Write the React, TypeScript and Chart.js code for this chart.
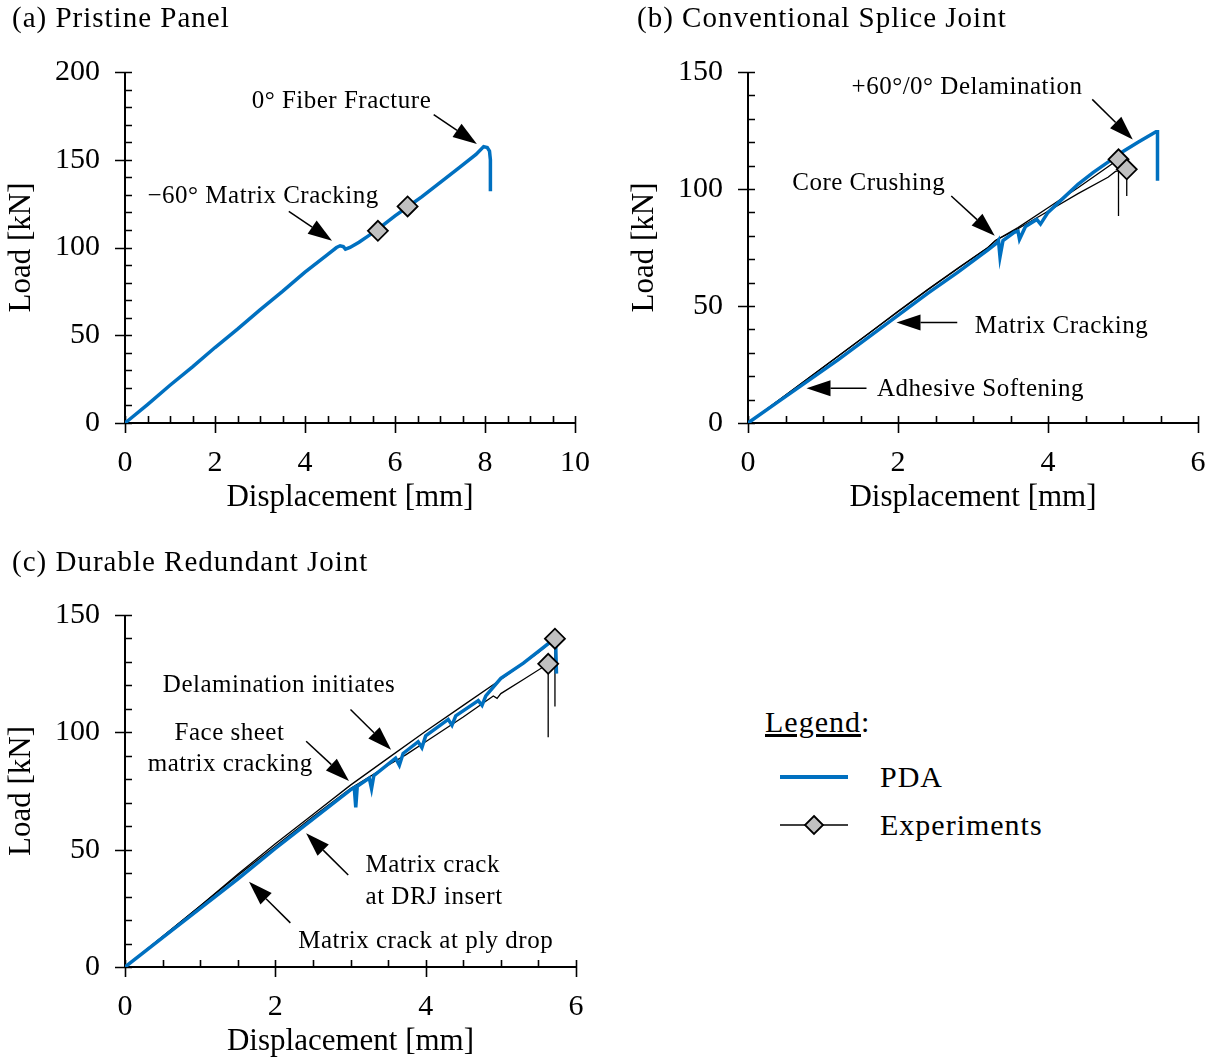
import React, { useEffect, useRef } from "react";
import { Chart, registerables } from "chart.js";

Chart.register(...registerables);

const FONT = '"Liberation Serif", "Times New Roman", serif';
const BLUE = "#0070C0";
const GREY = "#C0C0C0";

// ---------- Panel (a) Pristine Panel ----------
const aPdaX = [0, 0.05, 0.5, 1.0, 1.5, 2.0, 2.5, 3.0, 3.5, 4.0, 4.5, 4.7, 4.78, 4.85, 4.9, 5.0, 5.2, 5.4, 5.6, 5.8, 6.0, 6.3, 6.6, 7.0, 7.4, 7.8, 7.97, 8.05, 8.1, 8.12, 8.12];
const aPdaY = [0, 1, 10.5, 21.5, 32, 43, 53.5, 64.5, 75, 86, 96, 100, 101, 100.5, 99, 100, 103, 106.5, 110, 114, 118, 123.5, 129, 137, 145, 153, 157.5, 157, 155, 150, 132];
const aPeakX = [5.62, 6.28];
const aPeakY = [109.5, 123.4];

// ---------- Panel (b) Conventional Splice Joint ----------
const bPdaX = [0, 0.4, 0.8, 1.2, 1.6, 2.0, 2.4, 2.8, 3.2, 3.32, 3.34, 3.36, 3.4, 3.55, 3.6, 3.62, 3.7, 3.85, 3.9, 4.0, 4.2, 4.4, 4.6, 4.8, 5.0, 5.2, 5.44, 5.46, 5.46];
const bPdaY = [0, 9, 18, 27, 36.5, 46, 55.5, 64.5, 74, 77, 78, 71, 78, 81.5, 82, 78.5, 84, 87, 85, 90, 96, 102, 107, 111.5, 116, 120, 124.5, 124.5, 103.5];
const bExp1X = [0, 0.4, 0.8, 1.2, 1.6, 2.0, 2.4, 2.8, 3.2, 3.3, 3.6, 4.0, 4.4, 4.8, 4.94, 4.94];
const bExp1Y = [0, 9.5, 19, 28.5, 38, 47.5, 57, 66, 75, 78, 83.5, 92, 100.5, 109.5, 112.7, 88.5];
const bExp2X = [0, 0.4, 0.8, 1.2, 1.6, 2.0, 2.4, 2.8, 3.2, 3.3, 3.6, 4.0, 4.4, 4.8, 4.9, 5.05, 5.05];
const bExp2Y = [0, 9.5, 19, 28.5, 38, 47.8, 57.2, 66.2, 75, 78, 83, 90.5, 98, 105, 107.5, 108.4, 97];
const bPeakX = [4.94, 5.05];
const bPeakY = [112.7, 108.4];

// ---------- Panel (c) Durable Redundant Joint ----------
const cPdaX = [0, 0.5, 1.0, 1.5, 2.0, 2.5, 3.0, 3.05, 3.07, 3.09, 3.25, 3.28, 3.31, 3.6, 3.65, 3.7, 3.9, 3.95, 4.0, 4.3, 4.35, 4.4, 4.7, 4.75, 4.8, 5.0, 5.3, 5.5, 5.68, 5.73, 5.74];
const cPdaY = [0, 12.5, 25, 37.5, 50.5, 63, 75.5, 76.5, 68, 77, 80.5, 76, 81.5, 89, 86, 91, 96, 93.5, 98.5, 105.5, 103, 107, 113.5, 111.5, 115.5, 123, 129.5, 134.5, 139, 137, 125];
const cExp1X = [0, 0.5, 1.0, 1.5, 2.0, 2.5, 3.0, 3.5, 4.0, 4.5, 5.0, 5.5, 5.72, 5.72];
const cExp1Y = [0, 13, 26, 39.5, 52.5, 65, 77.5, 89, 100.5, 111.5, 122.5, 134, 139.9, 111];
const cExp2X = [0, 0.5, 1.0, 1.5, 2.0, 2.5, 3.0, 3.5, 3.74, 4.0, 4.5, 4.9, 4.95, 5.0, 5.3, 5.63, 5.63];
const cExp2Y = [0, 13, 26, 39, 51.5, 64, 76, 86, 90.5, 96, 106.5, 115.5, 114.5, 116.5, 122.5, 129.2, 97.9];
const cPeakX = [5.72, 5.63];
const cPeakY = [139.9, 129.2];

// ---------- Axis settings ----------
const aXRange = [0, 10], aXStep = 2, aXMinor = 0.5;
const aYRange = [0, 200], aYStep = 50, aYMinor = 10;
const bXRange = [0, 6], bXStep = 2, bXMinor = 0.5;
const bYRange = [0, 150], bYStep = 50, bYMinor = 10;
const cXRange = [0, 6], cXStep = 2, cXMinor = 0.5;
const cYRange = [0, 150], cYStep = 50, cYMinor = 10;

const X_TITLE = "Displacement [mm]";
const Y_TITLE = "Load [kN]";

type Note = { text: string; x: number; y: number; align?: CanvasTextAlign };
type Arrow = [number, number, number, number];

const aNotes: Note[] = [
  { text: "0° Fiber Fracture", x: 4.81, y: 183 },
  { text: "−60° Matrix Cracking", x: 3.07, y: 129 },
];
const aArrows: Arrow[] = [
  [6.86, 175.7, 7.82, 159],
  [3.64, 120.6, 4.6, 103.9],
];
const bNotes: Note[] = [
  { text: "+60°/0° Delamination", x: 2.92, y: 143.2 },
  { text: "Core Crushing", x: 1.61, y: 102.3 },
  { text: "Matrix Cracking", x: 4.18, y: 41.1 },
  { text: "Adhesive Softening", x: 3.1, y: 14.5 },
];
const bArrows: Arrow[] = [
  [4.59, 138.3, 5.13, 121.2],
  [2.71, 97, 3.29, 80],
  [2.79, 43, 1.98, 43],
  [1.58, 14.8, 0.78, 14.8],
];
const cNotes: Note[] = [
  { text: "Delamination initiates", x: 2.05, y: 120.1 },
  { text: "Face sheet", x: 1.39, y: 99.7 },
  { text: "matrix cracking", x: 1.4, y: 86.2 },
  { text: "Matrix crack", x: 3.2, y: 43.2, align: "left" },
  { text: "at DRJ insert", x: 3.2, y: 29.5, align: "left" },
  { text: "Matrix crack at ply drop", x: 4.0, y: 11 },
];
const cArrows: Arrow[] = [
  [3.0, 109.7, 3.54, 92.6],
  [2.41, 96.2, 2.98, 79.3],
  [2.97, 39.2, 2.41, 57],
  [2.2, 18.8, 1.65, 36.3],
];

const pts = (xs: number[], ys: number[]) => xs.map((x, i) => ({ x, y: ys[i] }));

function makeDecor(xMinor: number, yMinor: number, notes: Note[], arrows: Arrow[]) {
  return {
    id: "decor",
    beforeDatasetsDraw(chart: any) {
      const { ctx, chartArea: a, scales } = chart;
      const xs = scales.x;
      const ys = scales.y;
      ctx.save();
      ctx.strokeStyle = "#000";
      ctx.lineWidth = 2;
      ctx.beginPath();
      ctx.moveTo(a.left, a.top);
      ctx.lineTo(a.left, a.bottom);
      ctx.lineTo(a.right, a.bottom);
      ctx.stroke();
      ctx.lineWidth = 1.6;
      ctx.beginPath();
      for (let v = xs.min; v <= xs.max + 1e-9; v += xMinor) {
        const p = Math.round(xs.getPixelForValue(v)) + 0.5;
        ctx.moveTo(p, a.bottom);
        ctx.lineTo(p, a.bottom - 7);
      }
      for (let v = ys.min; v <= ys.max + 1e-9; v += yMinor) {
        const p = Math.round(ys.getPixelForValue(v)) + 0.5;
        ctx.moveTo(a.left, p);
        ctx.lineTo(a.left + 7, p);
      }
      xs.ticks.forEach((t: any) => {
        const p = Math.round(xs.getPixelForValue(t.value)) + 0.5;
        ctx.moveTo(p, a.bottom);
        ctx.lineTo(p, a.bottom + 10);
      });
      ys.ticks.forEach((t: any) => {
        const p = Math.round(ys.getPixelForValue(t.value)) + 0.5;
        ctx.moveTo(a.left, p);
        ctx.lineTo(a.left - 10, p);
      });
      ctx.stroke();
      ctx.restore();
    },
    afterDatasetsDraw(chart: any) {
      const { ctx, scales } = chart;
      const xs = scales.x;
      const ys = scales.y;
      ctx.save();
      ctx.fillStyle = "#000";
      ctx.font = `25px ${FONT}`;
      try {
        (ctx as any).letterSpacing = "0.5px";
      } catch (e) {}
      ctx.textBaseline = "middle";
      notes.forEach((n) => {
        ctx.textAlign = n.align || "center";
        ctx.fillText(n.text, xs.getPixelForValue(n.x), ys.getPixelForValue(n.y));
      });
      ctx.strokeStyle = "#000";
      ctx.lineWidth = 1.5;
      arrows.forEach(([x1, y1, x2, y2]) => {
        const px1 = xs.getPixelForValue(x1);
        const py1 = ys.getPixelForValue(y1);
        const px2 = xs.getPixelForValue(x2);
        const py2 = ys.getPixelForValue(y2);
        const ang = Math.atan2(py2 - py1, px2 - px1);
        const L = 24;
        const W = 8;
        const bx = px2 - L * Math.cos(ang);
        const by = py2 - L * Math.sin(ang);
        ctx.beginPath();
        ctx.moveTo(px1, py1);
        ctx.lineTo(bx, by);
        ctx.stroke();
        ctx.beginPath();
        ctx.moveTo(px2, py2);
        ctx.lineTo(bx + W * Math.sin(ang), by - W * Math.cos(ang));
        ctx.lineTo(bx - W * Math.sin(ang), by + W * Math.cos(ang));
        ctx.closePath();
        ctx.fill();
      });
      ctx.restore();
    },
  };
}

type PanelProps = {
  left: number;
  top: number;
  width: number;
  height: number;
  padL: number;
  padR: number;
  padB: number;
  xRange: number[];
  xStep: number;
  xMinor: number;
  yRange: number[];
  yStep: number;
  yMinor: number;
  pda: { x: number; y: number }[];
  exps: { x: number; y: number }[][];
  peaks: { x: number; y: number }[];
  notes: Note[];
  arrows: Arrow[];
};

function Panel(p: PanelProps) {
  const ref = useRef<HTMLCanvasElement | null>(null);
  useEffect(() => {
    if (!ref.current) return;
    const titleFont = { family: FONT, size: 31 };
    const datasets: any[] = [
      {
        label: "peaks",
        data: p.peaks,
        showLine: false,
        pointStyle: "rectRot",
        pointRadius: 10,
        pointHoverRadius: 10,
        backgroundColor: GREY,
        borderColor: "#000",
        pointBackgroundColor: GREY,
        pointBorderColor: "#000",
        pointBorderWidth: 1.8,
        clip: false,
      },
      {
        label: "PDA",
        data: p.pda,
        showLine: true,
        borderColor: BLUE,
        borderWidth: 3.5,
        pointRadius: 0,
        tension: 0,
        fill: false,
      },
      ...p.exps.map((d, i) => ({
        label: "Exp" + i,
        data: d,
        showLine: true,
        borderColor: "#000",
        borderWidth: 1.3,
        pointRadius: 0,
        tension: 0,
        fill: false,
      })),
    ];
    const chart = new Chart(ref.current, {
      type: "scatter",
      data: { datasets },
      options: {
        animation: false,
        responsive: true,
        maintainAspectRatio: false,
        layout: { padding: { left: p.padL, right: p.padR, top: 72, bottom: p.padB } },
        plugins: { legend: { display: false }, tooltip: { enabled: false } },
        events: [],
        scales: {
          x: {
            type: "linear",
            min: p.xRange[0],
            max: p.xRange[1],
            grid: { display: false, drawTicks: false },
            border: { display: false },
            ticks: {
              stepSize: p.xStep,
              font: { family: FONT, size: 30, lineHeight: "80px" },
              color: "#000",
              padding: 0,
              maxRotation: 0,
              autoSkip: false,
            },
            title: { display: true, text: X_TITLE, font: titleFont, color: "#000", padding: { top: 4, bottom: 2 } },
            afterFit: (s: any) => {
              s.height = 95;
            },
          },
          y: {
            type: "linear",
            min: p.yRange[0],
            max: p.yRange[1],
            grid: { display: false, drawTicks: false },
            border: { display: false },
            ticks: { stepSize: p.yStep, font: { family: FONT, size: 30 }, color: "#000", padding: 25, autoSkip: false },
            title: { display: true, text: Y_TITLE, font: titleFont, color: "#000", padding: { top: 3, bottom: 2 } },
            afterFit: (s: any) => {
              s.width = 125;
            },
          },
        },
      } as any,
      plugins: [makeDecor(p.xMinor, p.yMinor, p.notes, p.arrows)],
    });
    return () => chart.destroy();
  }, []);
  return (
    <div style={{ position: "absolute", left: p.left, top: p.top, width: p.width, height: p.height }}>
      <canvas ref={ref} />
    </div>
  );
}

const textStyle = (left: number, top: number, size: number): React.CSSProperties => ({
  position: "absolute",
  left,
  top,
  font: `${size}px ${FONT}`,
  lineHeight: `${size}px`,
  letterSpacing: "1px",
  whiteSpace: "nowrap",
  color: "#000",
});

export default function App() {
  return (
    <div style={{ position: "absolute", left: 0, top: 0, width: 1211, height: 1062, background: "#fff", overflow: "hidden" }}>
      <Panel
        left={0} top={0} width={605} height={520} padL={0} padR={30} padB={2}
        xRange={aXRange} xStep={aXStep} xMinor={aXMinor}
        yRange={aYRange} yStep={aYStep} yMinor={aYMinor}
        pda={pts(aPdaX, aPdaY)} exps={[]} peaks={pts(aPeakX, aPeakY)}
        notes={aNotes} arrows={aArrows}
      />
      <Panel
        left={610} top={0} width={601} height={520} padL={13} padR={13} padB={2}
        xRange={bXRange} xStep={bXStep} xMinor={bXMinor}
        yRange={bYRange} yStep={bYStep} yMinor={bYMinor}
        pda={pts(bPdaX, bPdaY)} exps={[pts(bExp1X, bExp1Y), pts(bExp2X, bExp2Y)]} peaks={pts(bPeakX, bPeakY)}
        notes={bNotes} arrows={bArrows}
      />
      <Panel
        left={0} top={543} width={605} height={519} padL={0} padR={29} padB={0}
        xRange={cXRange} xStep={cXStep} xMinor={cXMinor}
        yRange={cYRange} yStep={cYStep} yMinor={cYMinor}
        pda={pts(cPdaX, cPdaY)} exps={[pts(cExp1X, cExp1Y), pts(cExp2X, cExp2Y)]} peaks={pts(cPeakX, cPeakY)}
        notes={cNotes} arrows={cArrows}
      />
      <div style={textStyle(12, 3, 29)}>(a) Pristine Panel</div>
      <div style={textStyle(637, 3, 29)}>(b) Conventional Splice Joint</div>
      <div style={textStyle(12, 547, 29)}>(c) Durable Redundant Joint</div>

      <div style={textStyle(765, 707, 30)}>
        <span style={{ textDecoration: "underline" }}>Legend</span>:
      </div>
      <svg style={{ position: "absolute", left: 770, top: 760 }} width={90} height={90}>
        <line x1={10} y1={17} x2={78} y2={17} stroke={BLUE} strokeWidth={4} />
        <line x1={10} y1={65} x2={78} y2={65} stroke="#000" strokeWidth={1.5} />
        <polygon points="44,56 53,65 44,74 35,65" fill={GREY} stroke="#000" strokeWidth={1.8} />
      </svg>
      <div style={textStyle(880, 762, 30)}>PDA</div>
      <div style={textStyle(880, 810, 30)}>Experiments</div>
    </div>
  );
}
